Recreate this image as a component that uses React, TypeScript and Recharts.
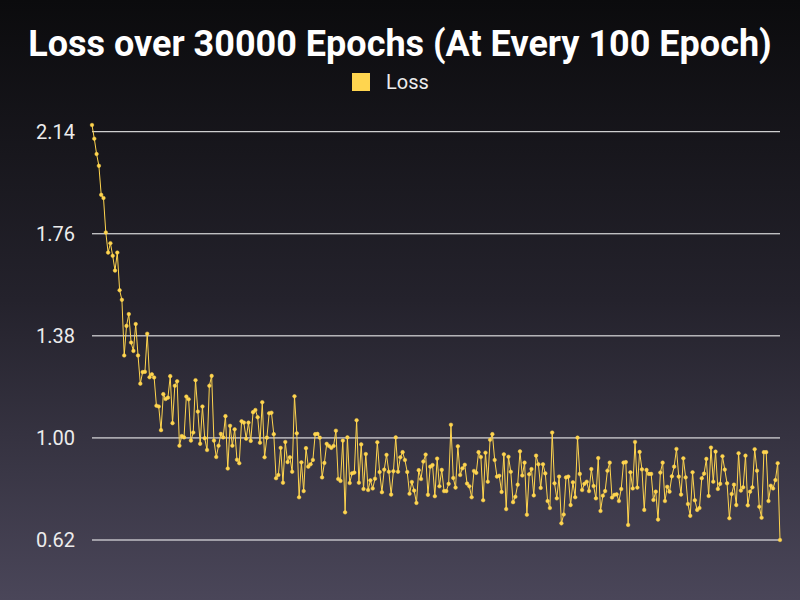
import { LineChart, Line, XAxis, YAxis, CartesianGrid } from 'recharts';

const TITLE = 'Loss over 30000 Epochs (At Every 100 Epoch)';
const SERIES_NAME = 'Loss';

// loss sampled every 100 epochs (0 .. 29900)
const lossValues = [
  2.165, 2.114, 2.057, 2.013, 1.905, 1.893, 1.765, 1.69, 1.725, 1.678,
  1.623, 1.69, 1.55, 1.514, 1.307, 1.417, 1.461, 1.355, 1.324, 1.424,
  1.307, 1.202, 1.245, 1.246, 1.388, 1.226, 1.237, 1.225, 1.12, 1.117,
  1.029, 1.163, 1.145, 1.15, 1.23, 1.055, 1.194, 1.211, 0.971, 1.007,
  1.002, 1.154, 1.144, 0.99, 1.02, 1.215, 1.098, 0.978, 1.117, 0.999,
  0.955, 1.194, 1.231, 0.99, 0.929, 0.971, 1.015, 1.002, 1.081, 0.886,
  1.045, 0.971, 1.032, 0.919, 0.906, 1.062, 1.057, 0.997, 1.057, 0.989,
  1.096, 1.104, 1.077, 0.982, 1.133, 0.928, 1.001, 1.092, 1.094, 1.014,
  0.85, 0.862, 0.963, 0.833, 0.985, 0.91, 0.928, 0.874, 1.155, 1.017,
  0.779, 0.909, 0.802, 0.962, 0.893, 0.902, 0.918, 1.014, 1.015, 1.001,
  0.853, 0.907, 0.978, 0.97, 0.963, 0.97, 1.027, 0.847, 0.84, 0.99,
  0.723, 1.002, 0.832, 0.868, 0.871, 1.066, 0.833, 0.976, 0.81, 0.94,
  0.806, 0.842, 0.812, 0.848, 0.984, 0.873, 0.798, 0.882, 0.937, 0.874,
  0.789, 0.876, 1.002, 0.874, 0.928, 0.947, 0.918, 0.873, 0.792, 0.836,
  0.804, 0.758, 0.88, 0.847, 0.912, 0.938, 0.788, 0.893, 0.899, 0.783,
  0.923, 0.82, 0.881, 0.802, 0.802, 0.829, 1.049, 0.851, 0.815, 0.969,
  0.862, 0.887, 0.9, 0.83, 0.82, 0.779, 0.877, 0.87, 0.947, 0.929,
  0.768, 0.945, 0.837, 0.993, 1.014, 0.918, 0.856, 0.859, 0.799, 0.939,
  0.735, 0.93, 0.874, 0.761, 0.781, 0.826, 0.95, 0.86, 0.908, 0.714,
  0.865, 0.884, 0.786, 0.934, 0.902, 0.814, 0.902, 0.868, 0.765, 0.739,
  1.02, 0.831, 0.775, 0.856, 0.682, 0.715, 0.853, 0.856, 0.75, 0.835,
  0.779, 1.001, 0.866, 0.806, 0.829, 0.837, 0.802, 0.884, 0.821, 0.775,
  0.925, 0.728, 0.785, 0.802, 0.878, 0.908, 0.778, 0.788, 0.79, 0.765,
  0.81, 0.908, 0.91, 0.676, 0.872, 0.812, 0.985, 0.815, 0.948, 0.883,
  0.732, 0.881, 0.866, 0.866, 0.769, 0.8, 0.696, 0.871, 0.908, 0.765,
  0.818, 0.8, 0.857, 0.893, 0.959, 0.856, 0.789, 0.924, 0.853, 0.754,
  0.71, 0.872, 0.768, 0.732, 0.739, 0.85, 0.867, 0.922, 0.784, 0.964,
  0.837, 0.949, 0.81, 0.829, 0.932, 0.882, 0.831, 0.701, 0.791, 0.826,
  0.75, 0.943, 0.804, 0.816, 0.934, 0.749, 0.8, 0.816, 0.958, 0.878,
  0.744, 0.703, 0.947, 0.947, 0.765, 0.822, 0.812, 0.843, 0.906, 0.62,
];

const epochs = lossValues.map((_, i) => i * 100);
const yTicks = [0.62, 1.0, 1.38, 1.76, 2.14];

const data = epochs.map((epoch, i) => ({ epoch, loss: lossValues[i] }));

const LINE_COLOR = '#ffd54f';

export default function App() {
  return (
    <div
      style={{
        position: 'absolute',
        top: 0,
        left: 0,
        width: 800,
        height: 600,
        background: 'linear-gradient(to bottom, #0b0b0d 0%, #24222c 50%, #4a4659 100%)',
        fontFamily: 'Roboto, sans-serif',
        overflow: 'hidden',
      }}
    >
      <div
        style={{
          position: 'absolute',
          top: 18,
          left: 0,
          width: 800,
          textAlign: 'center',
          color: '#ffffff',
          fontSize: 36,
          fontWeight: 700,
          lineHeight: '52px',
        }}
      >
        {TITLE}
      </div>
      <div
        style={{
          position: 'absolute',
          top: 72,
          left: 352,
          display: 'flex',
          alignItems: 'center',
        }}
      >
        <div style={{ width: 18, height: 18, background: LINE_COLOR }} />
        <span style={{ color: '#ececec', fontSize: 20, lineHeight: '20px', marginLeft: 16 }}>
          {SERIES_NAME}
        </span>
      </div>
      <LineChart
        width={800}
        height={600}
        data={data}
        margin={{ top: 125, right: 20, bottom: 60, left: 0 }}
        style={{ position: 'absolute', top: 0, left: 0 }}
      >
        <CartesianGrid vertical={false} horizontalValues={yTicks} stroke="#ffffff" />
        <XAxis dataKey="epoch" hide />
        <YAxis
          width={92}
          domain={[0.62, 2.165]}
          ticks={yTicks}
          tickFormatter={(v: number) => v.toFixed(2)}
          axisLine={false}
          tickLine={false}
          tickSize={0}
          tickMargin={17}
          tick={{ fill: '#ececec', fontSize: 20, fontFamily: 'Roboto, sans-serif' }}
        />
        <Line
          type="linear"
          dataKey="loss"
          name={SERIES_NAME}
          stroke={LINE_COLOR}
          strokeWidth={1}
          dot={{ r: 1.8, fill: LINE_COLOR, stroke: LINE_COLOR, strokeWidth: 0.5 }}
          isAnimationActive={false}
        />
      </LineChart>
    </div>
  );
}
